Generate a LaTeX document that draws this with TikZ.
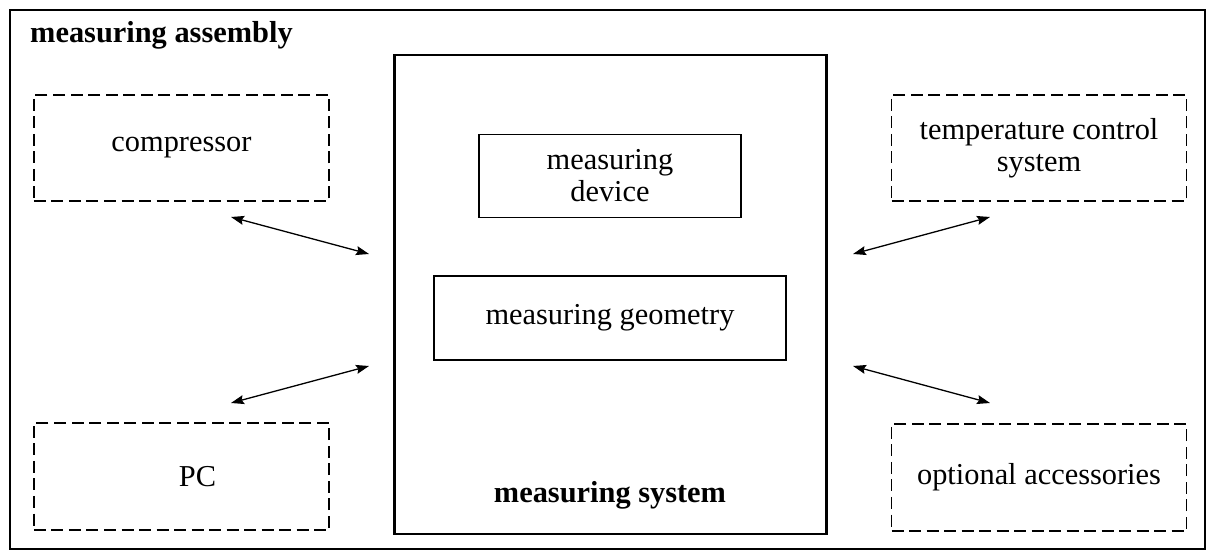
\documentclass[tikz,border=0pt]{standalone}
\usepackage{fontspec}
\setmainfont{Liberation Serif}
\usetikzlibrary{arrows.meta}
\begin{document}
\begin{tikzpicture}[x=1bp,y=-1bp,
  txt/.style={font=\fontsize{30.5}{32}\selectfont},
  btxt/.style={font=\fontsize{30.5}{32}\selectfont\bfseries},
  dbox/.style={draw, dash pattern=on 12bp off 5.5bp, line width=1.1bp, minimum width=295bp, minimum height=106bp, inner sep=0pt, align=center, txt},
  sbox/.style={draw, line width=1.1bp, inner sep=0pt, align=center, txt},
  frame/.style={draw, line width=2.2bp, inner sep=0pt},
  link/.style={line width=1.3bp, {Stealth[length=13bp,width=9bp,inset=2bp]}-{Stealth[length=13bp,width=9bp,inset=2bp]}}
]
\useasboundingbox (0,0) rectangle (1208,554);
% outer frame
\node[frame, minimum width=1195bp, minimum height=539bp] (asm) at (607.5,279.5) {};
\node[btxt, anchor=base west, inner sep=0pt] (asmtitle) at (30,43) {measuring assembly};
% measuring system
\node[frame, minimum width=432bp, minimum height=479bp] (sys) at (610.5,294.5) {};
\node[btxt, anchor=base, inner sep=0pt] (systitle) at (610,502) {measuring system};
\node[sbox, minimum width=262bp, minimum height=83bp] (dev) at (610,176) {measuring\\device};
\node[sbox, minimum width=352bp, minimum height=84bp] (geo) at (610,318) {measuring geometry};
% peripheral boxes
\node[dbox] (comp) at (181.5,148) {compressor};
\node[dbox, minimum height=107bp] (pc) at (181.5,476.5) {\hspace*{32bp}PC};
\node[dbox] (temp) at (1039,148) {temperature control\\system};
\node[dbox, minimum height=107bp] (opt) at (1039,477.5) {optional accessories};
% arrow ends
\coordinate (a1) at (231,217);
\coordinate (b1) at (369,254);
\coordinate (a2) at (231,403);
\coordinate (b2) at (369,366);
\coordinate (a3) at (853,254);
\coordinate (b3) at (990,217);
\coordinate (a4) at (853,366);
\coordinate (b4) at (990,403);
\draw[link] (a1) -- (b1);
\draw[link] (a2) -- (b2);
\draw[link] (a3) -- (b3);
\draw[link] (a4) -- (b4);
\end{tikzpicture}
\end{document}
